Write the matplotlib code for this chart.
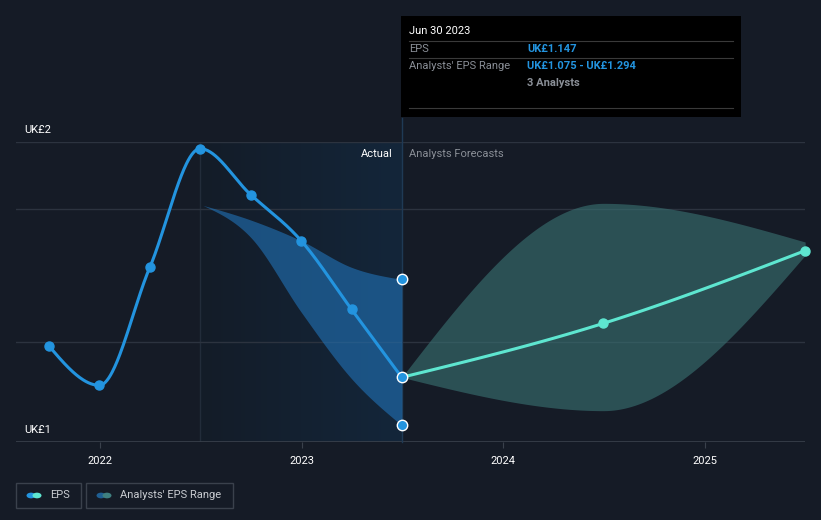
import numpy as np
import matplotlib
matplotlib.use("Agg")
import matplotlib.pyplot as plt
from matplotlib.patches import Rectangle, Circle

plt.rcParams['font.family'] = ['Roboto', 'DejaVu Sans']

# quarter ends as decimal years
eps_x = [2021.747, 2021.997, 2022.247, 2022.496, 2022.747, 2022.997, 2023.247, 2023.496]
eps_y = [1.194, 1.135, 1.312, 1.490, 1.421, 1.352, 1.249, 1.147]

past_x = [2022.51, 2022.747, 2022.997, 2023.247, 2023.496]
past_hi = [1.405, 1.383, 1.352, 1.312, 1.294]
past_lo = [1.405, 1.357, 1.245, 1.145, 1.075]

fc_x = [2023.496, 2024.496, 2025.496]
fc_y = [1.147, 1.228, 1.337]
fc_hi = [1.147, 1.408, 1.350]
fc_lo = [1.147, 1.097, 1.330]

years = [2022, 2023, 2024, 2025]

BG = '#151b26'
BLUE = '#2394df'
TEAL = '#5ee6d0'


def monotone(x, y, n=60):
    # d3 curveMonotoneX style
    x = np.asarray(x, float)
    y = np.asarray(y, float)
    h = np.diff(x)
    s = np.diff(y) / h
    t = np.zeros(len(x))
    for i in range(1, len(x) - 1):
        p = (s[i - 1] * h[i] + s[i] * h[i - 1]) / (h[i - 1] + h[i])
        t[i] = (np.sign(s[i - 1]) + np.sign(s[i])) * min(abs(s[i - 1]), abs(s[i]), 0.5 * abs(p))
    if len(x) > 2:
        t[0] = (3 * s[0] - t[1]) / 2
        t[-1] = (3 * s[-1] - t[-2]) / 2
    else:
        t[:] = s[0]
    xs, ys = [], []
    for i in range(len(x) - 1):
        u = np.linspace(0, 1, n)
        h00 = 2 * u**3 - 3 * u**2 + 1
        h10 = u**3 - 2 * u**2 + u
        h01 = -2 * u**3 + 3 * u**2
        h11 = u**3 - u**2
        xs.append(x[i] + u * h[i])
        ys.append(h00 * y[i] + h10 * h[i] * t[i] + h01 * y[i + 1] + h11 * h[i] * t[i + 1])
    return np.concatenate(xs), np.concatenate(ys)


W, H = 821, 520
fig = plt.figure(figsize=(W / 100, H / 100), dpi=100, facecolor=BG)
ax = fig.add_axes([16 / W, (H - 442) / H, (805 - 16) / W, 300 / H])
ax.set_facecolor(BG)

x0 = 2022 + (16 - 100) / 201.7
x1 = 2022 + (805 - 100) / 201.7
ax.set_xlim(x0, x1)
ax.set_ylim(1.05, 1.5)

# actual region gradient
grad = np.linspace(0, 1, 256).reshape(1, -1)
cmap = matplotlib.colors.LinearSegmentedColormap.from_list('g', ['#141c28', '#13263a'])
ax.imshow(grad, extent=[eps_x[3], eps_x[-1], 1.05, 1.5], aspect='auto', cmap=cmap,
          interpolation='bilinear', zorder=0.5)
ax.axvline(eps_x[3], color='#222c3a', lw=1, zorder=0.6)

# grid lines
for gy in [1.5, 1.4, 1.2]:
    ax.axhline(gy, color='#2c333f', lw=1, zorder=1)
ax.axhline(1.05, color='#3a414c', lw=1.2, zorder=1)

# past analysts range
px, ph = monotone(past_x, past_hi)
_, pl = monotone(past_x, past_lo)
ax.fill_between(px, pl, ph, color='#2173b8', alpha=0.6, lw=0, zorder=2)

# forecast range
fx, fh = monotone(fc_x, fc_hi)
_, fl = monotone(fc_x, fc_lo)
ax.fill_between(fx, fl, fh, color='#3a7474', alpha=0.6, lw=0, zorder=2)

# EPS lines
ex, ey = monotone(eps_x, eps_y)
ax.plot(ex, ey, color=BLUE, lw=2.2, zorder=3, solid_capstyle='round')
ax.plot(eps_x[:-1], eps_y[:-1], 'o', color=BLUE, ms=6.5, zorder=4)

gx, gy_ = monotone(fc_x, fc_y)
ax.plot(gx, gy_, color=TEAL, lw=2.2, zorder=3)
ax.plot(fc_x[1:], fc_y[1:], 'o', color=TEAL, ms=6.5, zorder=4, clip_on=False)

# white-edged markers at the last actual point
ax.plot([eps_x[-1]] * 3, [eps_y[-1], past_hi[-1], past_lo[-1]], 'o', color=BLUE,
        mec='white', mew=1, ms=7.5, zorder=5)

# tooltip vertical line
ax.plot([eps_x[-1], eps_x[-1]], [1.05, 1.536], color='#1f3a55', lw=1, zorder=1.5, clip_on=False)

ax.set_xticks(years)
ax.set_xticklabels([str(y) for y in years], color='white', fontsize=8)
ax.tick_params(axis='x', length=4, color='#3a414c', pad=6)
ax.set_yticks([])
for s in ax.spines.values():
    s.set_visible(False)

# y labels
fig.text(24 / W, 1 - 130 / H, 'UK£2', color='white', fontsize=8, va='center')
fig.text(24 / W, 1 - 430 / H, 'UK£1', color='white', fontsize=8, va='center')
fig.text(393 / W, 1 - 154 / H, 'Actual', color='white', fontsize=8, va='center', ha='right')
fig.text(409 / W, 1 - 154 / H, 'Analysts Forecasts', color='#8a8f97', fontsize=8, va='center')

# tooltip
fig.patches.append(Rectangle((401 / W, 1 - 117 / H), 340 / W, 101 / H, transform=fig.transFigure,
                             facecolor='black', edgecolor='none', zorder=5))
for ly in [41, 58, 108]:
    fig.add_artist(plt.Line2D([409 / W, 733 / W], [1 - ly / H] * 2, color='#3a3a3a', lw=0.8, zorder=6))
fig.text(409 / W, 1 - 31 / H, 'Jun 30 2023', color='white', fontsize=8, va='center', zorder=7)
fig.text(409 / W, 1 - 49 / H, 'EPS', color='#8a8f97', fontsize=8, va='center', zorder=7)
fig.text(527 / W, 1 - 49 / H, 'UK£1.147', color=BLUE, fontsize=8, va='center', fontweight='bold', zorder=7)
fig.text(409 / W, 1 - 66 / H, "Analysts' EPS Range", color='#8a8f97', fontsize=8, va='center', zorder=7)
fig.text(527 / W, 1 - 66 / H, 'UK£1.075 - UK£1.294', color=BLUE, fontsize=8, va='center',
         fontweight='bold', zorder=7)
fig.text(527 / W, 1 - 83 / H, '3 Analysts', color='#8a8f97', fontsize=8, va='center', fontweight='bold', zorder=7)

# legend
def legend_box(xl, xr, c1, c2, label):
    fig.patches.append(Rectangle((xl / W, 1 - 508 / H), (xr - xl) / W, 25 / H, transform=fig.transFigure,
                                 facecolor='none', edgecolor='#3a414c', lw=1))
    fig.patches.append(Circle(((xl + 15) / W, 1 - 495.5 / H), 4.5 / W, transform=fig.transFigure,
                              facecolor=c1, edgecolor='none'))
    fig.patches.append(Circle(((xl + 21) / W, 1 - 495.5 / H), 4.5 / W, transform=fig.transFigure,
                              facecolor=c2, edgecolor='none'))
    fig.text((xl + 34) / W, 1 - 495.5 / H, label, color='#c9ccd1', fontsize=8, va='center')


legend_box(16, 81, BLUE, TEAL, 'EPS')
legend_box(86, 233, '#1f5f93', '#3f8080', "Analysts' EPS Range")

fig.savefig('out.png', dpi=100, facecolor=BG)
